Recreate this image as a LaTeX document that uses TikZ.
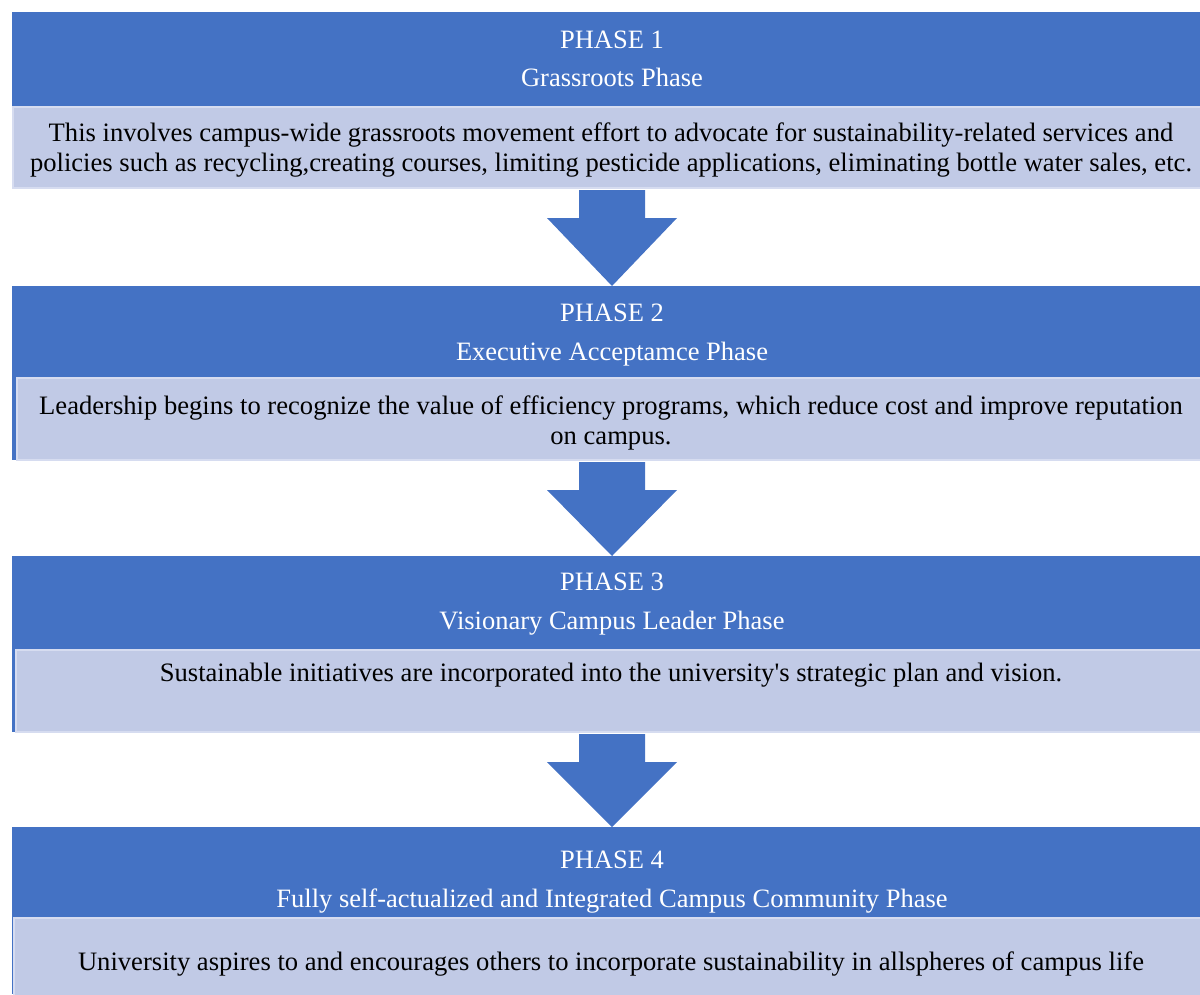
\documentclass[tikz,border=0pt]{standalone}
\usepackage{fontspec}
\setmainfont{Liberation Serif}[Ligatures=TeXOff]
\definecolor{hdr}{RGB}{68,114,196}
\definecolor{bodyfill}{RGB}{193,202,230}
\definecolor{bodyline}{RGB}{214,220,240}
\begin{document}
\begin{tikzpicture}[x=1pt,y=-1pt,
  hdrbox/.style={fill=hdr,draw=none},
  bodybox/.style={fill=bodyfill,draw=bodyline,line width=1.5pt},
  hdrtext/.style={text=white,font=\fontsize{26.5}{30}\selectfont,inner sep=0pt,anchor=base},
  bodytext/.style={text=black,font=\fontsize{26.6}{30}\selectfont,inner sep=0pt,align=center,anchor=base},
  arrowshape/.style={fill=hdr,draw=none}]
\useasboundingbox (0,0) rectangle (1200,994);
% Phase 1
\fill[hdr] (12,12) rectangle (1200,107);
\draw[bodybox] (13,107) rectangle (1201,188);
\node[hdrtext] (p1a) at (612,48) {PHASE 1};
\node[hdrtext] (p1b) at (612,86) {Grassroots Phase};
\node[bodytext] (p1c) at (611,141) {This involves campus-wide grassroots movement effort to advocate for sustainability-related services and};
\node[bodytext] (p1d) at (611,171) {policies such as recycling,creating courses, limiting pesticide applications, eliminating bottle water sales, etc.};
% Arrow 1
\fill[arrowshape] (579,190) -- (645,190) -- (645,218) -- (677,218) -- (612,286) -- (547,218) -- (579,218) -- cycle;
% Phase 2
\fill[hdr] (12,286) rectangle (1200,378);
\fill[hdr] (12,378) rectangle (16,460);
\draw[bodybox] (17,378) rectangle (1201,460);
\node[hdrtext] (p2a) at (612,321) {PHASE 2};
\node[hdrtext] (p2b) at (612,360) {Executive Acceptamce Phase};
\node[bodytext] (p2c) at (611,414) {Leadership begins to recognize the value of efficiency programs, which reduce cost and improve reputation};
\node[bodytext] (p2d) at (611,444) {on campus.};
% Arrow 2
\fill[arrowshape] (579,462) -- (645,462) -- (645,490) -- (677,490) -- (612,556) -- (547,490) -- (579,490) -- cycle;
% Phase 3
\fill[hdr] (12,556) rectangle (1200,649);
\fill[hdr] (12,649) rectangle (15,732);
\draw[bodybox] (16,650) rectangle (1201,732);
\node[hdrtext] (p3a) at (612,590) {PHASE 3};
\node[hdrtext] (p3b) at (612,629) {Visionary Campus Leader Phase};
\node[bodytext] (p3c) at (611,681) {Sustainable initiatives are incorporated into the university's strategic plan and vision.};
% Arrow 3
\fill[arrowshape] (579,734) -- (645,734) -- (645,762) -- (677,762) -- (612,827) -- (547,762) -- (579,762) -- cycle;
% Phase 4
\fill[hdr] (12,827) rectangle (1200,917);
\fill[hdr] (12,917) rectangle (14,994);
\draw[bodybox] (14,918) rectangle (1201,1000);
\node[hdrtext] (p4a) at (612,868) {PHASE 4};
\node[hdrtext] (p4b) at (612,907) {Fully self-actualized and Integrated Campus Community Phase};
\node[bodytext] (p4c) at (611,970) {University aspires to and encourages others to incorporate sustainability in allspheres of campus life};
\end{tikzpicture}
\end{document}
